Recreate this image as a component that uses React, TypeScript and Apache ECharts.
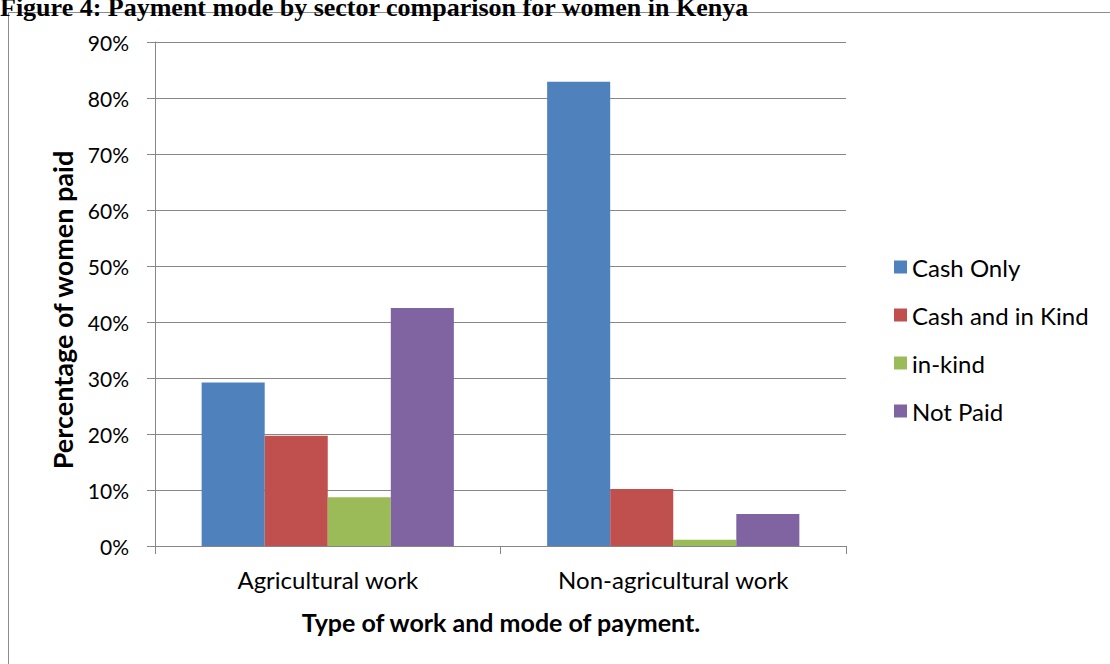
import React, { useEffect, useRef } from "react";
import * as echarts from "echarts";

const categories = ["Agricultural work", "Non-agricultural work"];
const seriesNames = ["Cash Only", "Cash and in Kind", "in-kind", "Not Paid"];
const cashOnly = [29.2, 82.9];
const cashAndKind = [19.7, 10.2];
const inKind = [8.7, 1.1];
const notPaid = [42.5, 5.7];
const colors = ["#4F81BD", "#C0504D", "#9BBB59", "#8064A2"];
const yTicks = { min: 0, max: 90, interval: 10 };

const FONT = "Lato, 'Open Sans', sans-serif";

export default function App() {
  const ref = useRef<HTMLDivElement>(null);
  useEffect(() => {
    const chart = echarts.init(ref.current!, null, { renderer: "svg" });
    const values = [cashOnly, cashAndKind, inKind, notPaid];
    chart.setOption({
      animation: false,
      backgroundColor: "#ffffff",
      color: colors,
      textStyle: { fontFamily: FONT },
      grid: { left: 155, right: 264, top: 42, bottom: 118, containLabel: false },
      legend: {
        orient: "vertical",
        left: 889,
        top: 250,
        icon: "rect",
        itemWidth: 13,
        itemHeight: 13,
        itemGap: 24,
        textStyle: { fontFamily: FONT, fontSize: 24, color: "#000", lineHeight: 24, padding: [0, 0, 0, 0] },
        data: seriesNames,
      },
      xAxis: {
        type: "category",
        data: categories,
        axisLine: { lineStyle: { color: "#868686", width: 1 } },
        axisTick: { show: true, length: 8, lineStyle: { color: "#868686" } },
        axisLabel: { fontFamily: FONT, fontSize: 24, color: "#000", margin: 21 },
      },
      yAxis: {
        type: "value",
        min: yTicks.min,
        max: yTicks.max,
        interval: yTicks.interval,
        axisLine: { show: true, lineStyle: { color: "#868686", width: 1 } },
        axisTick: { show: true, length: 8, lineStyle: { color: "#868686" } },
        axisLabel: { fontFamily: FONT, fontSize: 21, color: "#000", margin: 26, formatter: "{value}%" },
        splitLine: { show: true, lineStyle: { color: "#868686", width: 1 } },
      },
      series: seriesNames.map((name, i) => ({
        name,
        type: "bar",
        data: values[i],
        barGap: "0%",
        barCategoryGap: "27%",
        itemStyle: { color: colors[i] },
      })),
      graphic: [
        {
          type: "rect",
          shape: { x: 8.5, y: 12.5, width: 1300, height: 800 },
          style: { fill: "none", stroke: "#8c8c8c", lineWidth: 1 },
          silent: true,
        },
        {
          type: "text",
          x: 0,
          y: 20,
          style: {
            text: "Figure 4: Payment mode by sector comparison for women in Kenya",
            font: "bold 26px 'Liberation Serif', 'Times New Roman', serif",
            fill: "#000",
            textVerticalAlign: "bottom",
          },
        },
        {
          type: "text",
          x: 62,
          y: 310,
          rotation: Math.PI / 2,
          style: {
            text: "Percentage of women paid",
            font: "bold 27px " + FONT,
            fill: "#000",
            textAlign: "center",
            textVerticalAlign: "middle",
          },
        },
        {
          type: "text",
          x: 501,
          y: 622,
          style: {
            text: "Type of work and mode of payment.",
            font: "bold 25px " + FONT,
            fill: "#000",
            textAlign: "center",
            textVerticalAlign: "middle",
          },
        },
      ],
    });
    return () => chart.dispose();
  }, []);
  return (
    <div
      ref={ref}
      style={{ position: "absolute", left: 0, top: 0, width: 1110, height: 664 }}
    />
  );
}
